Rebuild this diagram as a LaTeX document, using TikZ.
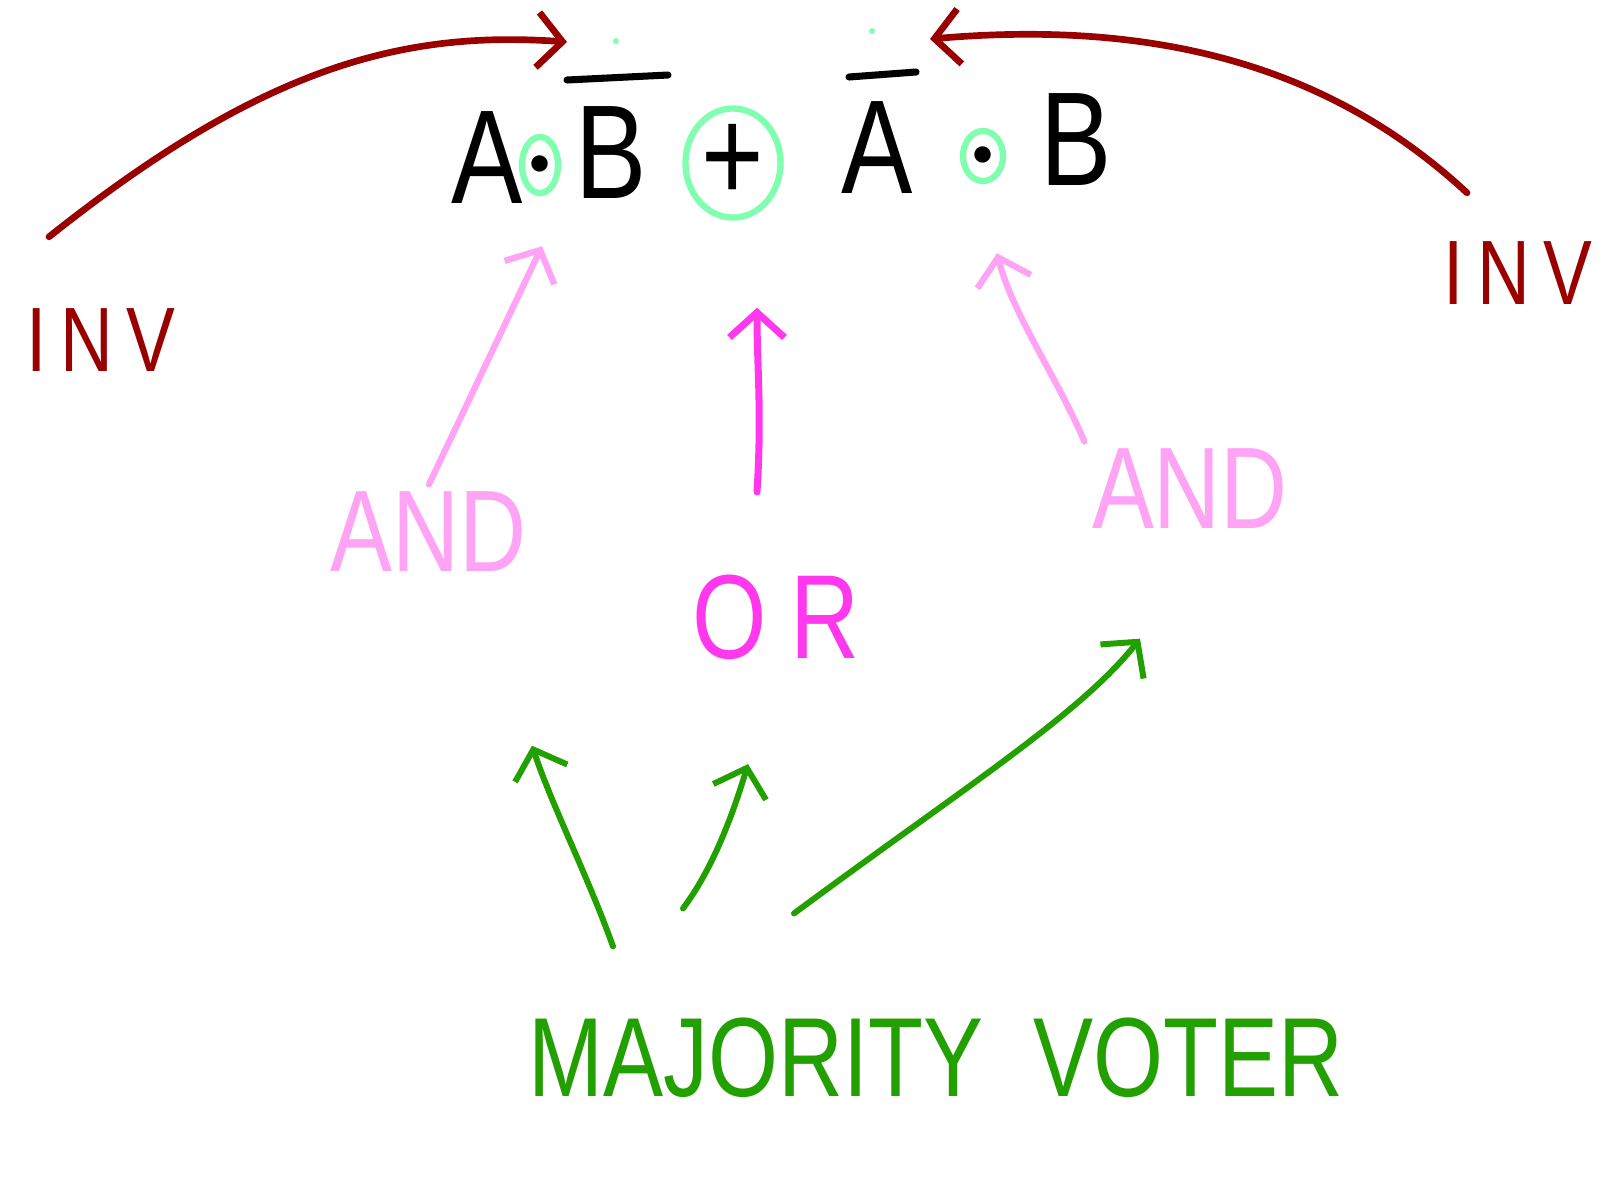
\documentclass[tikz,border=0pt]{standalone}
\usepackage{fontspec}
\newfontfamily\handfont[FakeStretch=0.8]{Liberation Sans}
\usetikzlibrary{arrows.meta}
\usetikzlibrary{shapes.geometric}
\usepackage{xcolor}
\definecolor{invred}{HTML}{990000}
\definecolor{andpink}{HTML}{FFA3F5}
\definecolor{ormagenta}{HTML}{FF38EE}
\definecolor{majgreen}{HTML}{22A000}
\definecolor{opgreen}{HTML}{80FFB0}

\begin{document}
\begin{tikzpicture}[
  x=0.01cm, y=-0.01cm,
  letter/.style={font=\handfont\fontsize{38}{40}\selectfont, inner sep=0pt},
  opcirc/.style={ellipse, draw=opgreen, line width=1.8pt, inner sep=0pt},
  bar/.style={line width=2pt, line cap=round},
  invlabel/.style={font=\handfont\fontsize{26}{28}\selectfont, color=invred, inner sep=2pt},
  andlabel/.style={font=\handfont\fontsize{33}{35}\selectfont, color=andpink, inner sep=2pt},
  orlabel/.style={font=\handfont\fontsize{34}{36}\selectfont, color=ormagenta, inner sep=2pt},
  majlabel/.style={font=\handfont\fontsize{32}{34}\selectfont, color=majgreen, inner sep=2pt},
  invarrow/.style={-{Straight Barb[length=2.5mm,width=5.5mm]}, line width=1.9pt,
                   line cap=round, color=invred},
  andarrow/.style={-{Straight Barb[length=2.5mm,width=5.5mm]}, line width=1.8pt,
                   line cap=round, color=andpink},
  orarrow/.style={-{Straight Barb[length=2.5mm,width=5.5mm]}, line width=2pt,
                  line cap=round, color=ormagenta},
  majarrow/.style={-{Straight Barb[length=2.5mm,width=5.5mm]}, line width=1.7pt,
                   line cap=round, color=majgreen},
]
  \useasboundingbox (0,0) rectangle (1603,1196);

  % the expression
  \node[letter] (termA1) at (487,158) {A};
  \node[opcirc, minimum width=0.36cm, minimum height=0.56cm] (andL) at (540,165) {\large$\bullet$};
  \node[letter] (termB1) at (611,153) {B};
  \node[opcirc, minimum width=0.95cm, minimum height=0.88cm, letter] (orOp) at (733,163) {+};
  \node[letter] (termA2) at (877,148) {A};
  \node[opcirc, minimum width=0.4cm, minimum height=0.5cm] (andR) at (983,156) {\large$\bullet$};
  \node[letter] (termB2) at (1076,140) {B};

  \draw[bar] (567,80) -- (668,75);
  \draw[bar] (849,77) -- (916,72);
  \fill[opgreen] (616,41) circle (3);
  \fill[opgreen] (872,31) circle (3);

  % labels
  \node[invlabel] (invL) at (101,340) {I\hspace{0.15em}N\hspace{0.15em}V};
  \node[invlabel] (invR) at (1518,273) {I\hspace{0.15em}N\hspace{0.15em}V};
  \node[andlabel] (andLblL) at (429,532) {AND};
  \node[andlabel] (andLblR) at (1190,489) {AND};
  \node[orlabel] (orLbl) at (776,617) {O\hspace{0.2em}R};
  \node[majlabel] (majLbl) at (936,1058) {MAJORITY\hspace{0.45em}VOTER};

  % inverters
  \draw[invarrow] ([shift={(-52,-64)}]invL.north)
    .. controls +(211,-168) and +(-167,-12) .. (567,42);
  \draw[invarrow] ([shift={(-51,-41)}]invR.north)
    .. controls +(-140,-130) and +(220,-19) .. (930,39);

  % gates
  \draw[andarrow] (andLblL.north) -- ([shift={(2,50)}]andL.south);
  \draw[andarrow] (andLblR.north west)
    .. controls +(-25,-60) and +(15,60) .. ([shift={(14,69)}]andR.south);
  \draw[orarrow] ([shift={(-19,-75)}]orLbl.north)
    .. controls +(5,-80) and +(0,60) .. ([shift={(24,87)}]orOp.south);

  % majority voter
  \draw[majarrow] ([shift={(-323,-64)}]majLbl.north)
    .. controls +(-25,-70) and +(20,60) .. ([shift={(103,166)}]andLblL.south);
  \draw[majarrow] ([shift={(-253,-102)}]majLbl.north)
    .. controls +(30,-40) and +(-15,50) .. ([shift={(-28,97)}]orLbl.south);
  \draw[majarrow] ([shift={(-142,-97)}]majLbl.north)
    .. controls +(166,-123) and +(-60,76) .. ([shift={(-50,102)}]andLblR.south);
\end{tikzpicture}
\end{document}
